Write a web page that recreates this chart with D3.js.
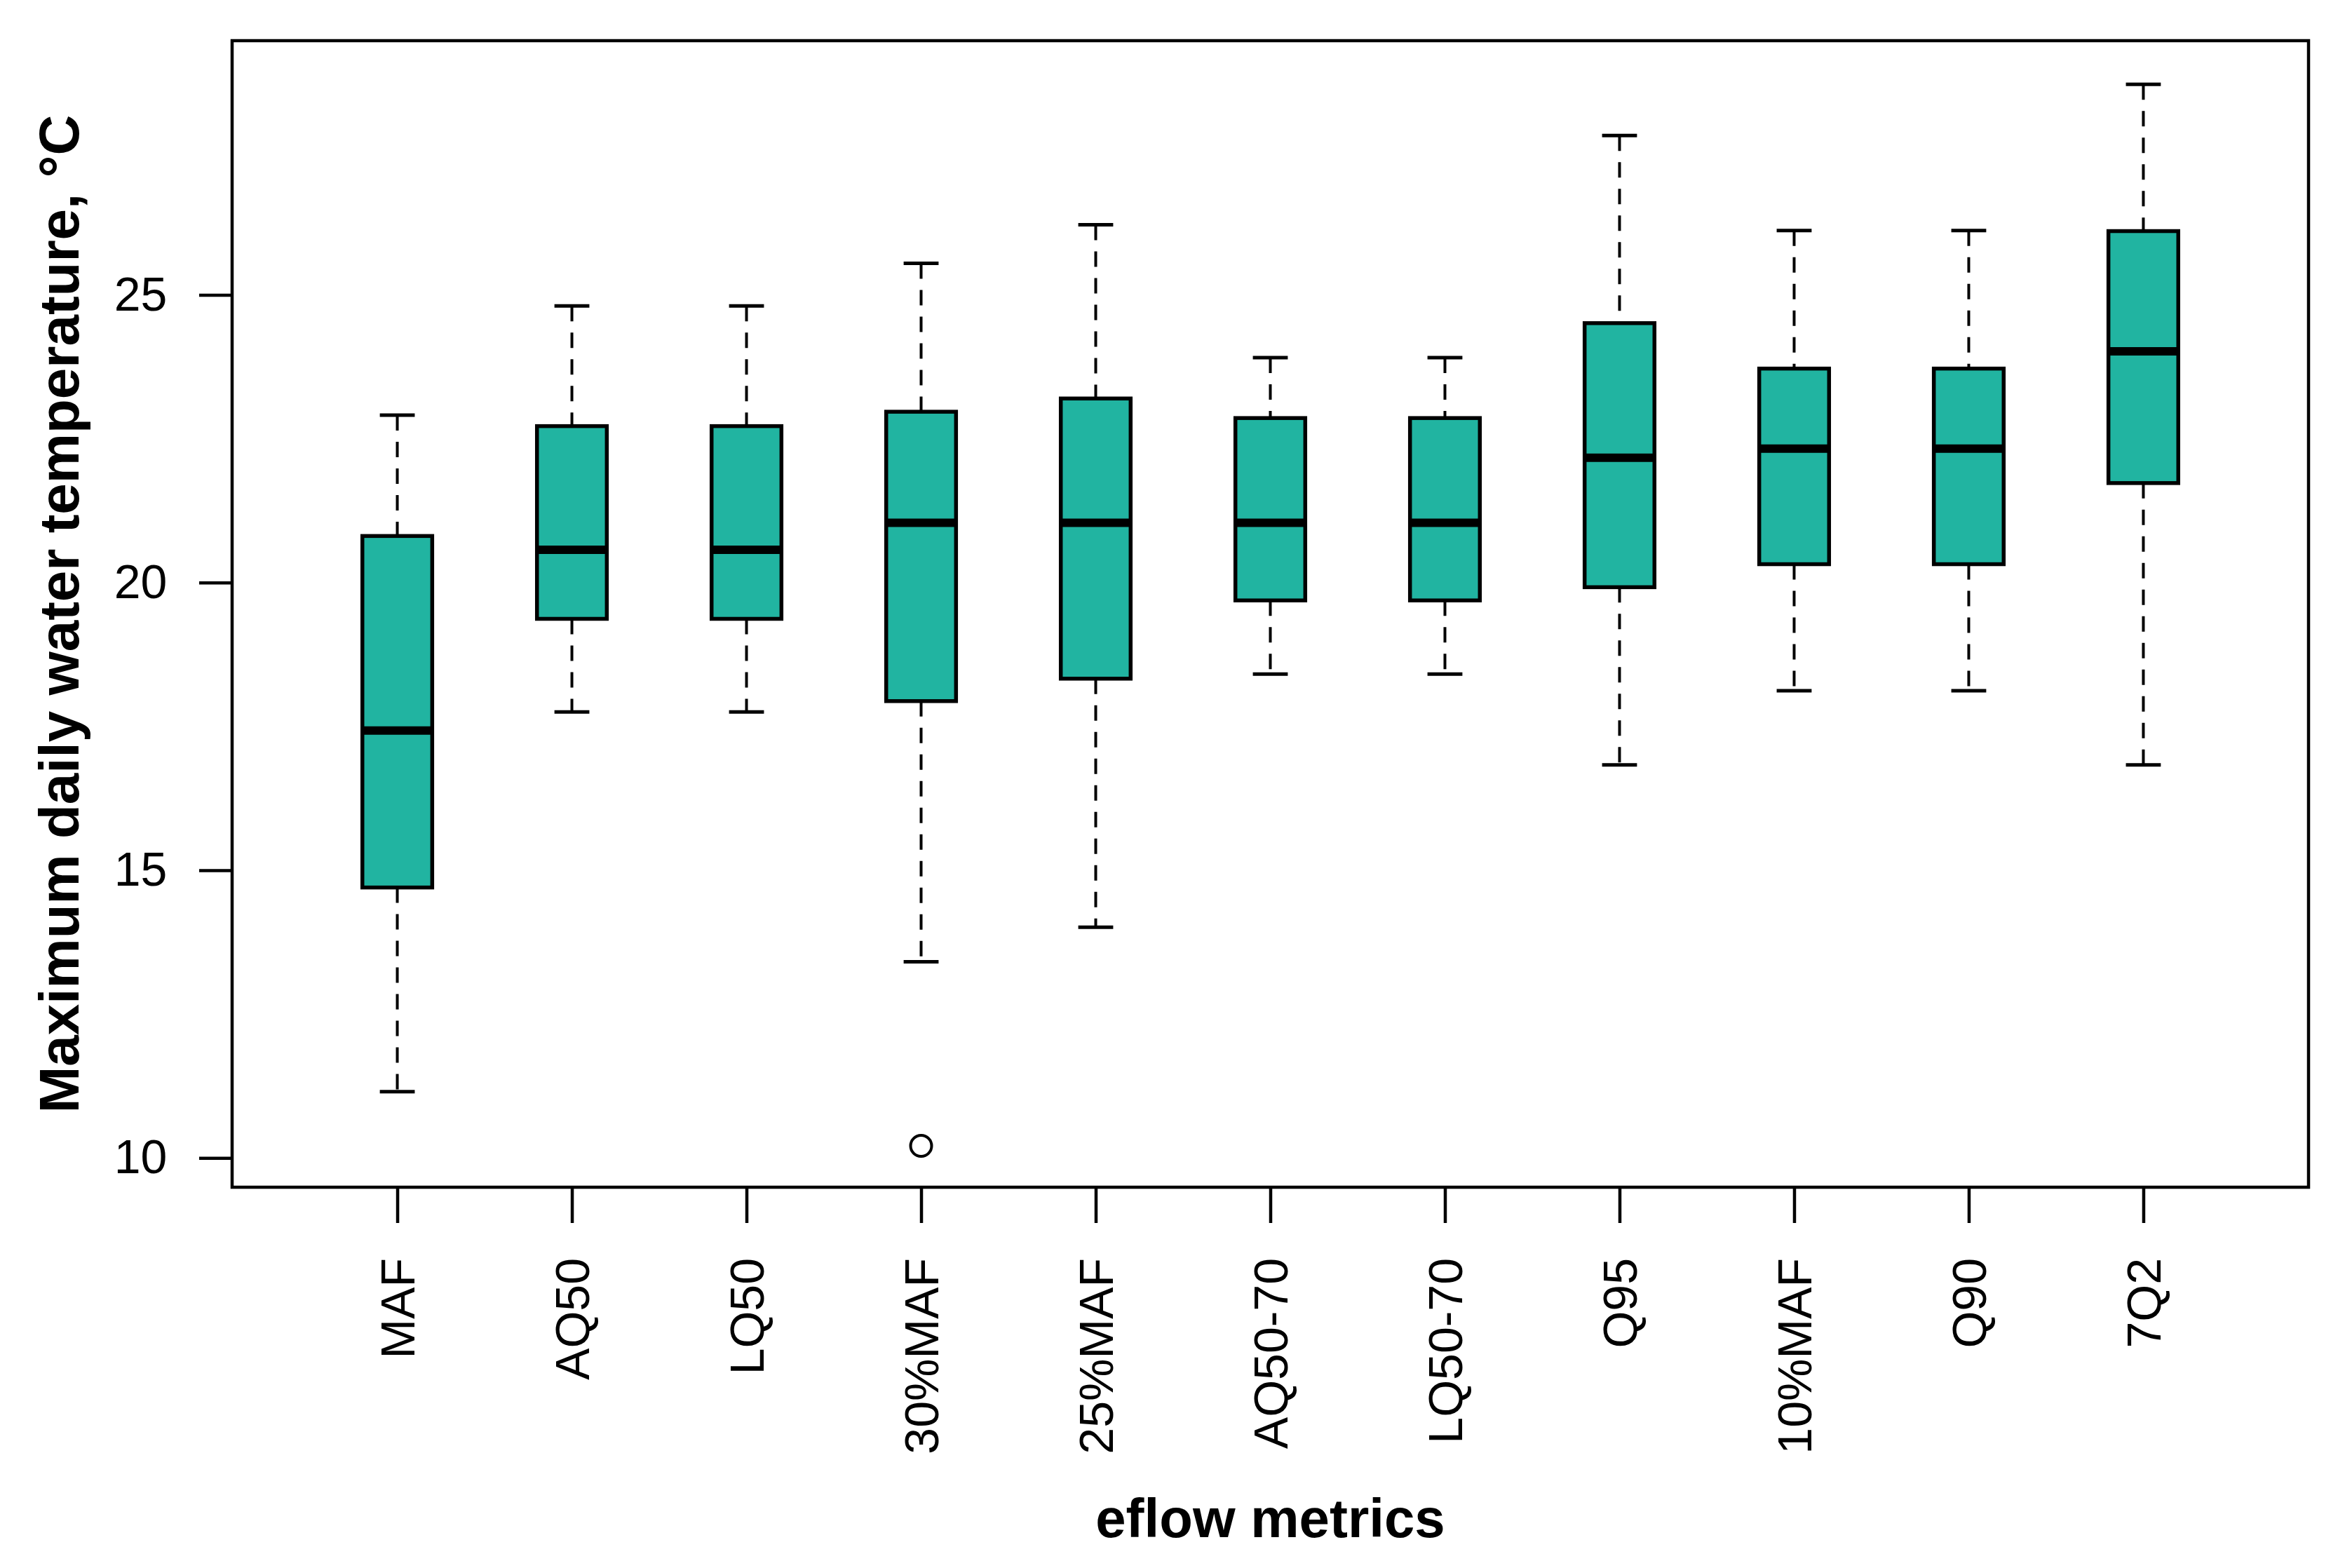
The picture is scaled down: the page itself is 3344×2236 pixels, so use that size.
<!DOCTYPE html>
<html>
<head>
<meta charset="utf-8">
<script src="https://cdn.jsdelivr.net/npm/d3@7"></script>
<style>
  body { margin: 0; background: #fff; }
  svg { display: block; }
  .axis text { font-family: "Liberation Sans", Arial, sans-serif; }
</style>
</head>
<body>
<svg id="chart" width="3344" height="2236"></svg>
<script>
var categories = ["MAF", "AQ50", "LQ50", "30%MAF", "25%MAF", "AQ50-70", "LQ50-70", "Q95", "10%MAF", "Q90", "7Q2"];
var whiskerLow  = [11.15, 17.75, 17.75, 13.41, 14.01, 18.41, 18.41, 16.83, 18.12, 18.12, 16.83];
var lowerQ      = [14.70, 19.37, 19.37, 17.94, 18.33, 19.69, 19.69, 19.92, 20.32, 20.32, 21.73];
var medians     = [17.43, 20.57, 20.57, 21.04, 21.04, 21.04, 21.04, 22.17, 22.33, 22.33, 24.02];
var upperQ      = [20.81, 22.72, 22.72, 22.97, 23.20, 22.86, 22.86, 24.51, 23.72, 23.72, 26.11];
var whiskerHigh = [22.91, 24.81, 24.81, 25.55, 26.22, 23.91, 23.91, 27.77, 26.12, 26.12, 28.66];
var outlierIdx  = [3];
var outlierVal  = [10.21];
var yTicks = [10, 15, 20, 25];

var svg = d3.select("#chart"),
    margin = {top: 58, right: 52, bottom: 543, left: 331},
    width = 3344 - margin.left - margin.right,
    height = 2236 - margin.top - margin.bottom,
    g = svg.append("g").attr("transform", "translate(" + margin.left + "," + margin.top + ")");

var boxes = categories.map(function(c, i) {
  return {name: c, i: i + 1, lo: whiskerLow[i], q1: lowerQ[i], med: medians[i], q3: upperQ[i], hi: whiskerHigh[i]};
});

var x = d3.scaleLinear()
    .domain([0.054, 11.946])
    .range([0, width]);

var y = d3.scaleLinear()
    .domain([9.49, 29.42])
    .range([height, 0]);

var boxW = x(1.2) - x(0.8),
    capW = x(1.1) - x(0.9),
    fill = "#21b4a1";

var box = g.append("g").selectAll("g")
  .data(boxes)
  .enter().append("g");

// whiskers
box.append("line")
    .attr("x1", function(d) { return x(d.i); })
    .attr("x2", function(d) { return x(d.i); })
    .attr("y1", function(d) { return y(d.hi); })
    .attr("y2", function(d) { return y(d.q3); })
    .attr("stroke", "#000").attr("stroke-width", 4).attr("stroke-dasharray", "22,16");
box.append("line")
    .attr("x1", function(d) { return x(d.i); })
    .attr("x2", function(d) { return x(d.i); })
    .attr("y1", function(d) { return y(d.q1); })
    .attr("y2", function(d) { return y(d.lo); })
    .attr("stroke", "#000").attr("stroke-width", 4).attr("stroke-dasharray", "22,16");
box.append("line")
    .attr("x1", function(d) { return x(d.i) - capW / 2; })
    .attr("x2", function(d) { return x(d.i) + capW / 2; })
    .attr("y1", function(d) { return y(d.hi); })
    .attr("y2", function(d) { return y(d.hi); })
    .attr("stroke", "#000").attr("stroke-width", 5);
box.append("line")
    .attr("x1", function(d) { return x(d.i) - capW / 2; })
    .attr("x2", function(d) { return x(d.i) + capW / 2; })
    .attr("y1", function(d) { return y(d.lo); })
    .attr("y2", function(d) { return y(d.lo); })
    .attr("stroke", "#000").attr("stroke-width", 5);

// boxes
box.append("rect")
    .attr("x", function(d) { return x(d.i) - boxW / 2; })
    .attr("y", function(d) { return y(d.q3); })
    .attr("width", boxW)
    .attr("height", function(d) { return y(d.q1) - y(d.q3); })
    .attr("fill", fill)
    .attr("stroke", "#000").attr("stroke-width", 5.5);

// medians
box.append("line")
    .attr("x1", function(d) { return x(d.i) - boxW / 2 + 2; })
    .attr("x2", function(d) { return x(d.i) + boxW / 2 - 2; })
    .attr("y1", function(d) { return y(d.med); })
    .attr("y2", function(d) { return y(d.med); })
    .attr("stroke", "#000").attr("stroke-width", 12);

// outliers
g.append("g").selectAll("circle")
  .data(outlierVal)
  .enter().append("circle")
    .attr("cx", function(d, k) { return x(outlierIdx[k] + 1); })
    .attr("cy", function(d) { return y(d); })
    .attr("r", 15)
    .attr("fill", "none")
    .attr("stroke", "#000").attr("stroke-width", 4);

// frame
g.append("rect")
    .attr("width", width).attr("height", height)
    .attr("fill", "none").attr("stroke", "#000").attr("stroke-width", 4.5);

// y axis
var yAxis = g.append("g")
    .attr("class", "axis")
    .attr("transform", "translate(-1,0)")
    .call(d3.axisLeft(y).tickValues(yTicks).tickSize(46).tickPadding(44));
yAxis.select(".domain").remove();
yAxis.selectAll("line").attr("stroke-width", 4.5);
yAxis.selectAll("text")
    .attr("font-size", 68)
    .attr("fill", "#000")
    .attr("text-anchor", "middle")
    .attr("dx", "-0.58em");

// x axis
var xAxis = g.append("g")
    .attr("class", "axis")
    .attr("transform", "translate(0," + (height + 1) + ")")
    .call(d3.axisBottom(x).tickValues(d3.range(1, categories.length + 1))
      .tickFormat(function(d) { return categories[d - 1]; })
      .tickSize(50).tickPadding(0));
xAxis.select(".domain").remove();
xAxis.selectAll("line").attr("stroke-width", 4.5);
xAxis.selectAll("text")
    .attr("font-size", 68)
    .attr("fill", "#000")
    .attr("text-anchor", "end")
    .attr("dy", null)
    .attr("dominant-baseline", "central")
    .attr("transform", "translate(0,100) rotate(-90)")
    .attr("y", 0).attr("x", 0);

// axis titles
svg.append("text")
    .attr("x", margin.left + width / 2)
    .attr("y", 2192)
    .attr("text-anchor", "middle")
    .attr("font-family", "Liberation Sans, Arial, sans-serif")
    .attr("font-weight", "bold")
    .attr("font-size", 78)
    .text("eflow metrics");

svg.append("text")
    .attr("transform", "translate(112," + (margin.top + height / 2) + ") rotate(-90)")
    .attr("text-anchor", "middle")
    .attr("font-family", "Liberation Sans, Arial, sans-serif")
    .attr("font-weight", "bold")
    .attr("font-size", 80)
    .text("Maximum daily water temperature, °C");
</script>
</body>
</html>
